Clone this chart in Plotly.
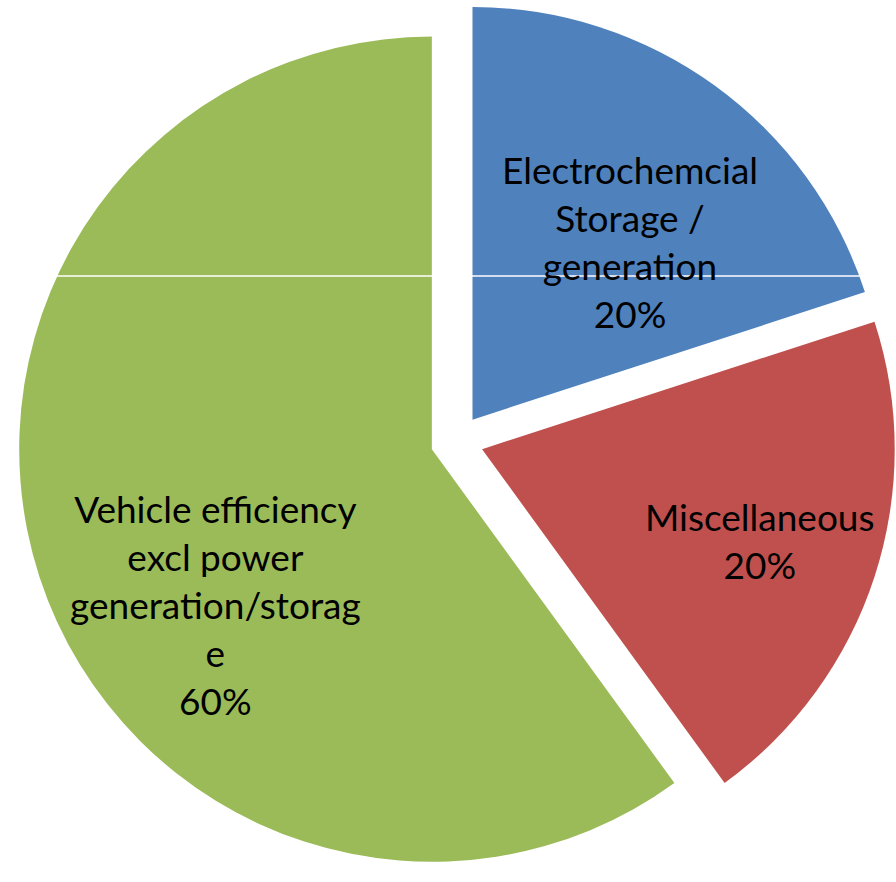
import plotly.graph_objects as go

labels = ["Electrochemcial Storage / generation", "Miscellaneous",
          "Vehicle efficiency excl power generation/storage"]
label_lines = ["Electrochemcial<br>Storage /<br>generation",
               "Miscellaneous",
               "Vehicle efficiency<br>excl power<br>generation/storag<br>e"]
values = [20, 20, 60]
colors = ["#4F81BD", "#C0504D", "#9BBB59"]

W, H = 896, 882
total = sum(values)

fig = go.Figure(go.Pie(
    labels=labels, values=values, sort=False, direction="clockwise",
    rotation=0, pull=0.064, textinfo="none", hoverinfo="label+percent",
    marker=dict(colors=colors, line=dict(width=0)),
    domain=dict(x=[0.02, 1.0], y=[0.0, 1.0]),
    showlegend=False,
))

# label positions (pixel centres)
label_pos = [(630, 241), (760, 540), (215, 604)]
for txt, v, (px, py) in zip(label_lines, values, label_pos):
    fig.add_annotation(
        x=px / W, y=1 - py / H, xref="paper", yref="paper",
        text=f"{txt}<br>{round(100 * v / total)}%", showarrow=False,
        font=dict(family="Lato, Open Sans, sans-serif", size=37, color="#000000"),
        align="center", xanchor="center", yanchor="middle",
    )

# thin white artefact line across the chart
fig.add_shape(type="line", xref="paper", yref="paper", x0=0, x1=1,
              y0=1 - 276 / H, y1=1 - 276 / H, line=dict(color="white", width=1.5))

fig.update_layout(width=W, height=H, margin=dict(l=0, r=0, t=0, b=0),
                  paper_bgcolor="white", plot_bgcolor="white")
fig.write_html("out.html")
